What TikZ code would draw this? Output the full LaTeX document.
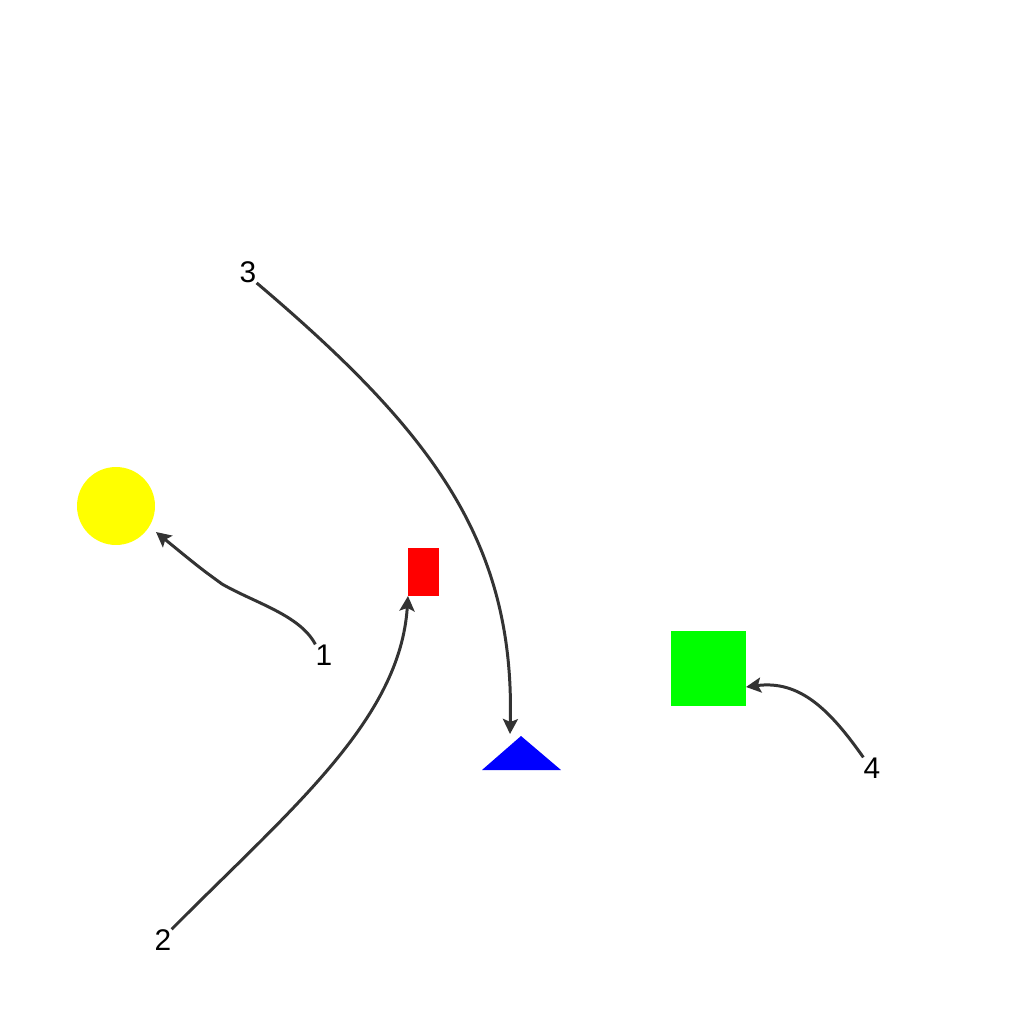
\documentclass[tikz,border=0pt]{standalone}
\usepackage{fontspec}
\setmainfont{Liberation Sans}
\usepackage{tikz}
\usetikzlibrary{arrows.meta}

\definecolor{linegray}{RGB}{51,51,51}
\definecolor{sunyellow}{RGB}{255,255,0}
\definecolor{purered}{RGB}{255,0,0}
\definecolor{puregreen}{RGB}{0,255,0}
\definecolor{pureblue}{RGB}{0,0,255}

\begin{document}
\begin{tikzpicture}[
  x=0.02cm, y=-0.02cm,
  fig/.style={inner sep=0pt, outer sep=0pt},
  num/.style={inner sep=0pt, font=\fontsize{17}{20}\selectfont},
  arr/.style={-{Stealth[length=0.3cm, width=0.3cm, inset=0.06cm]}, draw=linegray, line width=1.7pt}
]
  \useasboundingbox (0,0) rectangle (1024,1024);

  % shapes
  \node[fig, circle, fill=sunyellow, minimum size=1.56cm] (sun) at (116,506) {};
  \node[fig, rectangle, fill=purered, minimum width=0.62cm, minimum height=0.96cm] (redbox) at (423.5,572) {};
  \node[fig, rectangle, fill=puregreen, minimum size=1.5cm] (greenbox) at (708.5,668) {};
  \fill[pureblue] (482,770) -- (521,736) -- (561,770) -- cycle;
  \coordinate (apex) at (521,736);

  % labels
  \node[num] (l1) at (324,655) {1};
  \node[num] (l2) at (163,940) {2};
  \node[num] (l3) at (248,272) {3};
  \node[num] (l4) at (872,768) {4};

  % connectors
  \draw[arr] (l1.north west) .. controls (300,615) and (255,603) .. (222,584)
    .. controls (200,568) .. ([shift={(40,26)}]sun.center);
  \draw[arr] (l2.north east) .. controls (290,810) and (400,720) .. (redbox.south west);
  \draw[arr] (l3.south east) .. controls (430,430) and (515,540) .. ([xshift=-0.22cm, yshift=0.04cm]apex);
  \draw[arr] (l4.north west) .. controls (830,710) and (800,680) .. ([yshift=-0.38cm]greenbox.east);

\end{tikzpicture}
\end{document}
